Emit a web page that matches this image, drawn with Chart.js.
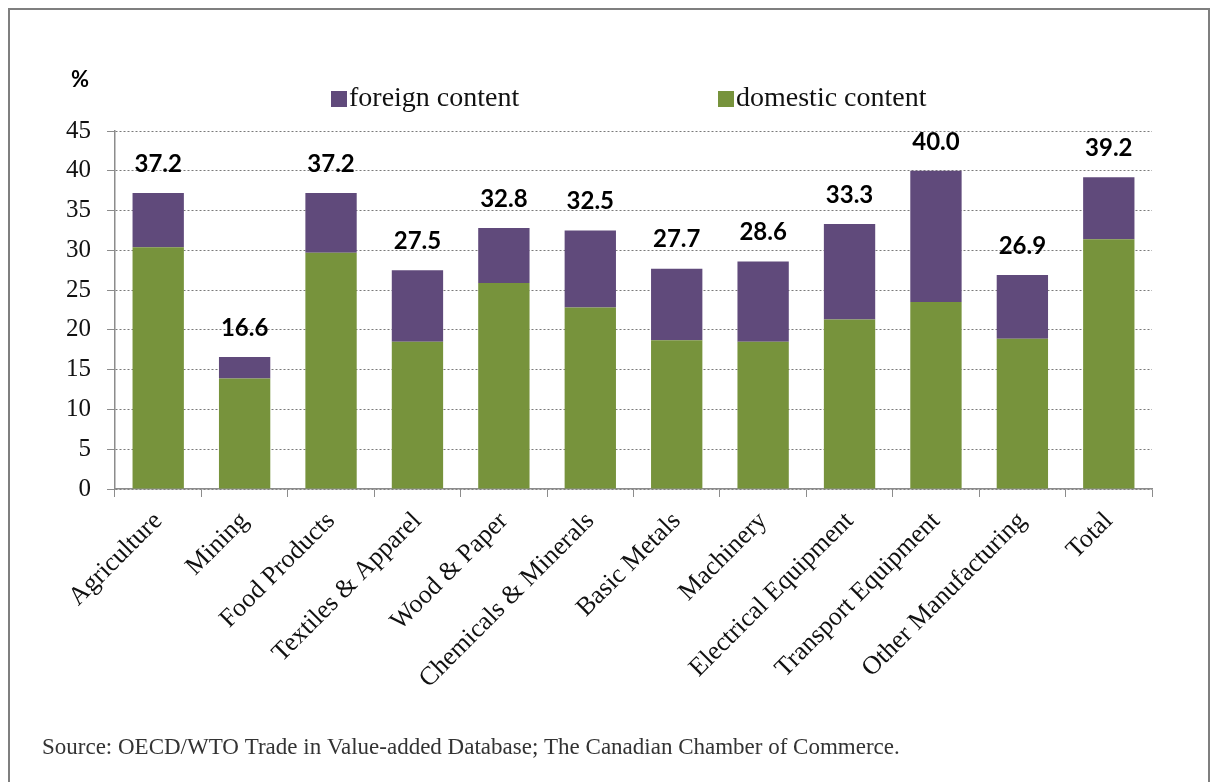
<!DOCTYPE html>
<html>
<head>
<meta charset="utf-8">
<script src="https://cdn.jsdelivr.net/npm/chart.js@4"></script>
<style>
  body { margin: 0; background: #fff; }
  #chart { display: block; }
</style>
</head>
<body>
<canvas id="chart" width="1212" height="782"></canvas>
<script>
const categories = ['Agriculture', 'Mining', 'Food Products', 'Textiles & Apparel', 'Wood & Paper',
  'Chemicals & Minerals', 'Basic Metals', 'Machinery', 'Electrical Equipment',
  'Transport Equipment', 'Other Manufacturing', 'Total'];
const domestic = [30.4, 13.9, 29.7, 18.5, 25.9, 22.8, 18.7, 18.5, 21.3, 23.5, 18.9, 31.4];
const foreign = [6.8, 2.7, 7.5, 9.0, 6.9, 9.7, 9.0, 10.1, 12.0, 16.5, 8.0, 7.8];
const totals = [37.2, 16.6, 37.2, 27.5, 32.8, 32.5, 27.7, 28.6, 33.3, 40.0, 26.9, 39.2];
const yTicks = [0, 5, 10, 15, 20, 25, 30, 35, 40, 45];

const serif = '"Liberation Serif", "Times New Roman", serif';
const axisGrey = '#8c8c8c';

// totals above bars, legend, unit label, source and frame
const extras = {
  id: 'extras',
  afterDatasetsDraw(chart) {
    const ctx = chart.ctx;
    const x = chart.scales.x, y = chart.scales.y;
    ctx.save();
    ctx.fillStyle = '#000';
    ctx.font = 'bold 24px Lato, sans-serif';
    ctx.textAlign = 'center';
    ctx.textBaseline = 'bottom';
    totals.forEach((t, i) => {
      ctx.fillText(t.toFixed(1), x.getPixelForValue(i), y.getPixelForValue(t) - 17);
    });
    ctx.restore();
  },
  afterDraw(chart) {
    const ctx = chart.ctx;
    ctx.save();
    // frame
    ctx.strokeStyle = '#7f7f7f';
    ctx.lineWidth = 2;
    ctx.strokeRect(9, 9, 1200, 800);

    // unit
    ctx.fillStyle = '#000';
    ctx.font = 'bold 22px Lato, sans-serif';
    ctx.textAlign = 'left';
    ctx.textBaseline = 'alphabetic';
    ctx.fillText('%', 71, 87);

    // legend (foreign first, like the original)
    const items = [[1, 331], [0, 718]];
    ctx.font = '28px ' + serif;
    items.forEach(([di, lx]) => {
      const ds = chart.data.datasets[di];
      ctx.fillStyle = ds.backgroundColor;
      ctx.fillRect(lx, 91, 16, 16);
      ctx.fillStyle = '#111';
      ctx.fillText(ds.label, lx + 18, 106);
    });

    // source
    ctx.fillStyle = '#333';
    ctx.font = '23px ' + serif;
    ctx.fillText('Source: OECD/WTO Trade in Value-added Database; The Canadian Chamber of Commerce.', 42, 754);
    ctx.restore();
  }
};

new Chart(document.getElementById('chart'), {
  type: 'bar',
  data: {
    labels: categories,
    datasets: [
      { label: 'domestic content', data: domestic, backgroundColor: '#77933C' },
      { label: 'foreign content', data: foreign, backgroundColor: '#604A7B' }
    ]
  },
  options: {
    responsive: false,
    animation: false,
    layout: { padding: { left: 0, right: 60, top: 131, bottom: 43 } },
    datasets: {
      bar: { barPercentage: 0.594, categoryPercentage: 1.0 }
    },
    scales: {
      x: {
        stacked: true,
        afterFit: s => { s.height = 250; },
        grid: { display: true, drawOnChartArea: false, drawTicks: true, tickLength: 8, color: axisGrey, offset: true },
        border: { color: axisGrey, width: 1.5 },
        ticks: {
          minRotation: 45, maxRotation: 45, padding: 9, autoSkip: false,
          color: '#111', font: { family: serif, size: 26 }
        }
      },
      y: {
        stacked: true,
        min: 0, max: 45,
        afterFit: s => { s.width = 115; },
        afterBuildTicks: s => { s.ticks = yTicks.map(v => ({ value: v })); },
        grid: { color: '#7a7a7a', lineWidth: 1, tickLength: 8, tickColor: axisGrey, tickBorderDash: [] },
        border: { color: axisGrey, width: 1.5, dash: [2, 2] },
        ticks: { padding: 16, color: '#111', font: { family: serif, size: 25 } }
      }
    },
    plugins: {
      legend: { display: false },
      tooltip: { enabled: false }
    }
  },
  plugins: [extras]
});
</script>
</body>
</html>
